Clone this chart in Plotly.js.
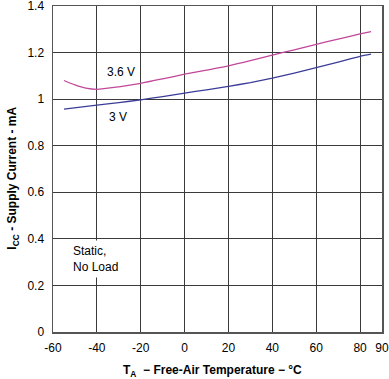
<!DOCTYPE html>
<html>
<head>
<meta charset="utf-8">
<script src="https://cdn.plot.ly/plotly-3.0.1.min.js"></script>
<style>html,body{margin:0;padding:0;background:#fff;}#chart{width:389px;height:379px;}</style>
</head>
<body>
<div id="chart"></div>
<script>
// Temperature (°C)
const temps36 = [-55, -50, -45, -40, -30, -20, -10, 0, 10, 20, 30, 40, 50, 60, 70, 80, 85];
const icc36   = [1.080, 1.061, 1.047, 1.042, 1.053, 1.068, 1.087, 1.107, 1.125, 1.143, 1.165, 1.189, 1.212, 1.235, 1.258, 1.280, 1.290];
const temps3  = [-55, -40, -30, -20, -10, 0, 10, 20, 30, 40, 50, 60, 70, 80, 85];
const icc3    = [0.957, 0.974, 0.985, 0.997, 1.011, 1.026, 1.040, 1.055, 1.071, 1.090, 1.112, 1.135, 1.159, 1.184, 1.193];
const xTicks  = [-60, -40, -20, 0, 20, 40, 60, 80, 90];
const yTicks  = [0, 0.2, 0.4, 0.6, 0.8, 1, 1.2, 1.4];
const yTickText = ['0', '0.2', '0.4', '0.6', '0.8', '1', '1.2', '1.4'];

const font = 'Arial, "Liberation Sans", sans-serif';

const traces = [
  {x: temps36, y: icc36, mode: 'lines', name: '3.6 V', line: {color: '#c0489a', width: 1.3, shape: 'spline', smoothing: 0.6}},
  {x: temps3, y: icc3, mode: 'lines', name: '3 V', line: {color: '#3c3c98', width: 1.3, shape: 'spline', smoothing: 0.6}}
];

const layout = {
  width: 389, height: 379,
  margin: {l: 53, r: 7, t: 6, b: 47},
  paper_bgcolor: '#fff', plot_bgcolor: '#fff',
  showlegend: false,
  font: {family: font, size: 12, color: '#000'},
  xaxis: {
    range: [-60, 90], tickvals: xTicks, ticktext: xTicks.map(String),
    showgrid: true, gridcolor: '#3a3a3a', gridwidth: 1,
    showline: true, linecolor: '#555', linewidth: 1.5, mirror: true,
    zeroline: false, ticks: '', ticklabelstandoff: 4, ticklabeloverflow: 'allow'
  },
  yaxis: {
    range: [0, 1.4], tickvals: yTicks, ticktext: yTickText,
    showgrid: true, gridcolor: '#3a3a3a', gridwidth: 1,
    showline: true, linecolor: '#555', linewidth: 1.5, mirror: true,
    zeroline: false, ticks: '', ticklabelstandoff: 5, ticklabeloverflow: 'allow'
  },
  annotations: [
    {x: -36.2, y: 1.118, xref: 'x', yref: 'y', text: '3.6 V', showarrow: false, xanchor: 'left', yanchor: 'middle', font: {size: 12}},
    {x: -35.3, y: 0.922, xref: 'x', yref: 'y', text: '3 V', showarrow: false, xanchor: 'left', yanchor: 'middle', font: {size: 12}},
    {x: -52.5, y: 0.313, xref: 'x', yref: 'y', text: 'Static,<br>No Load', align: 'left', showarrow: false, xanchor: 'left', yanchor: 'middle', bgcolor: '#fff', borderpad: 3, font: {size: 12}},
    {x: 0.4833, y: -0.1211, xref: 'paper', yref: 'paper', text: '<b>T<sub>A</sub>  − Free-Air Temperature − °C</b>', showarrow: false, xanchor: 'center', yanchor: 'middle', font: {size: 12}},
    {x: -0.1216, y: 0.4735, xref: 'paper', yref: 'paper', text: '<b>I<sub>CC</sub> - Supply Current - mA</b>', textangle: -90, showarrow: false, xanchor: 'center', yanchor: 'middle', font: {size: 12}}
  ]
};

Plotly.newPlot('chart', traces, layout, {staticPlot: true, displayModeBar: false});
</script>
</body>
</html>
